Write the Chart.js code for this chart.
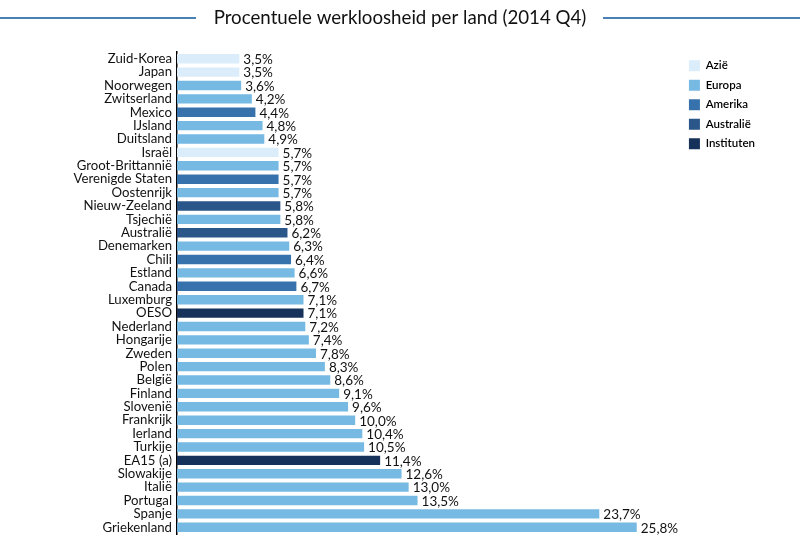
<!DOCTYPE html>
<html>
<head>
<meta charset="utf-8">
<script src="https://cdn.jsdelivr.net/npm/chart.js@4"></script>
<style>
  html, body { margin: 0; padding: 0; background: #fff; }
  #wrap { width: 800px; height: 550px; position: relative; }
</style>
</head>
<body>
<div id="wrap"><canvas id="chart"></canvas></div>
<script>
// data
const countries = ['Zuid-Korea', 'Japan', 'Noorwegen', 'Zwitserland', 'Mexico', 'IJsland', 'Duitsland', 'Israël',
  'Groot-Brittannië', 'Verenigde Staten', 'Oostenrijk', 'Nieuw-Zeeland', 'Tsjechië', 'Australië', 'Denemarken',
  'Chili', 'Estland', 'Canada', 'Luxemburg', 'OESO', 'Nederland', 'Hongarije', 'Zweden', 'Polen', 'België',
  'Finland', 'Slovenië', 'Frankrijk', 'Ierland', 'Turkije', 'EA15 (a)', 'Slowakije', 'Italië', 'Portugal',
  'Spanje', 'Griekenland'];
const unemployment = [3.5, 3.5, 3.6, 4.2, 4.4, 4.8, 4.9, 5.7, 5.7, 5.7, 5.7, 5.8, 5.8, 6.2, 6.3, 6.4, 6.6, 6.7,
  7.1, 7.1, 7.2, 7.4, 7.8, 8.3, 8.6, 9.1, 9.6, 10.0, 10.4, 10.5, 11.4, 12.6, 13.0, 13.5, 23.7, 25.8];
const regionOf = ['Azië', 'Azië', 'Europa', 'Europa', 'Amerika', 'Europa', 'Europa', 'Azië',
  'Europa', 'Amerika', 'Europa', 'Australië', 'Europa', 'Australië', 'Europa',
  'Amerika', 'Europa', 'Amerika', 'Europa', 'Instituten', 'Europa', 'Europa', 'Europa', 'Europa', 'Europa',
  'Europa', 'Europa', 'Europa', 'Europa', 'Europa', 'Instituten', 'Europa', 'Europa', 'Europa',
  'Europa', 'Europa'];
const regions = ['Azië', 'Europa', 'Amerika', 'Australië', 'Instituten'];
const regionColors = ['#dbedfa', '#76bae4', '#3872ac', '#2a5689', '#17325a'];

const FONT = 'Lato, "Open Sans", sans-serif';

// titel met lijnen links en rechts
const titlePlugin = {
  id: 'titleLines',
  afterDraw(chart) {
    const ctx = chart.ctx;
    ctx.save();
    ctx.font = '18.7px ' + FONT;
    ctx.fillStyle = '#111';
    ctx.textAlign = 'center';
    ctx.textBaseline = 'middle';
    ctx.fillText('Procentuele werkloosheid per land (2014 Q4)', 400, 18);
    ctx.strokeStyle = '#4a80b8';
    ctx.lineWidth = 2;
    ctx.beginPath();
    ctx.moveTo(0, 18); ctx.lineTo(196, 18);
    ctx.moveTo(603, 18); ctx.lineTo(800, 18);
    ctx.stroke();
    ctx.restore();
  }
};

// waarden achter de balken
const valueLabels = {
  id: 'valueLabels',
  afterDatasetsDraw(chart) {
    const ctx = chart.ctx;
    const meta = chart.getDatasetMeta(0);
    ctx.save();
    ctx.font = '13.5px ' + FONT;
    ctx.fillStyle = '#111';
    ctx.textAlign = 'left';
    ctx.textBaseline = 'middle';
    meta.data.forEach((bar, i) => {
      const txt = unemployment[i].toFixed(1).replace('.', ',') + '%';
      ctx.fillText(txt, bar.x + 4, bar.y + 1);
    });
    ctx.restore();
  }
};

new Chart(document.getElementById('chart'), {
  type: 'bar',
  data: {
    labels: countries,
    datasets: [{
      data: unemployment,
      backgroundColor: regionOf.map(r => regionColors[regions.indexOf(r)]),
      borderWidth: 0,
      categoryPercentage: 1,
      barPercentage: 0.7
    }]
  },
  options: {
    indexAxis: 'y',
    responsive: true,
    maintainAspectRatio: false,
    animation: false,
    layout: { padding: { top: 52, bottom: 16, left: 0, right: 35 } },
    scales: {
      x: { display: false, min: 0, max: 28.28 },
      y: {
        afterFit(scale) { scale.width = 177; },
        grid: { display: false, drawTicks: false },
        border: { display: true, color: '#000', width: 1.5 },
        ticks: { color: '#111', font: { family: FONT, size: 13.2 }, padding: 5, autoSkip: false }
      }
    },
    plugins: {
      legend: {
        position: 'right',
        align: 'start',
        labels: {
          boxWidth: 11,
          boxHeight: 11,
          padding: 8,
          color: '#111',
          font: { family: FONT, size: 11.5, weight: '600' },
          generateLabels() {
            return regions.map((r, i) => ({
              text: r, fillStyle: regionColors[i], strokeStyle: regionColors[i], lineWidth: 0, hidden: false, index: i
            }));
          }
        }
      },
      tooltip: { enabled: false }
    }
  },
  plugins: [titlePlugin, valueLabels]
});
</script>
</body>
</html>
